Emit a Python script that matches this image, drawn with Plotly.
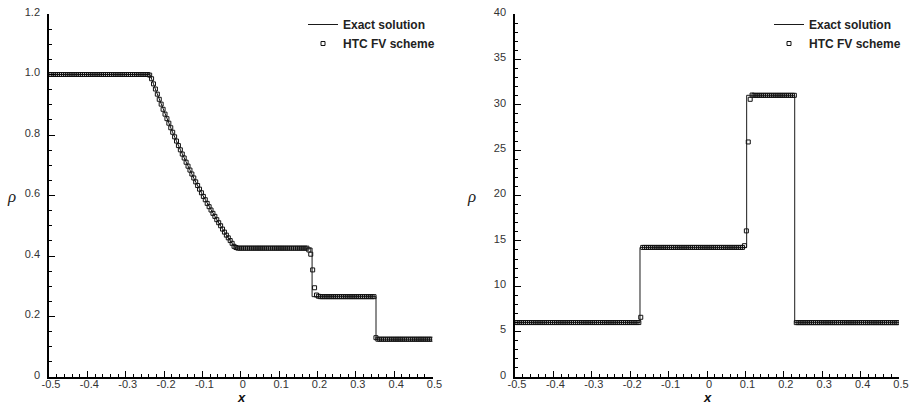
import numpy as np
import plotly.graph_objects as go

# ---------------- data ----------------
# cell centres of the numerical solution (200 cells on [-0.5, 0.5])
x_cells = np.linspace(-0.4975, 0.4975, 200)

# Left panel (Sod problem)
sod_rarefaction = [0.998, 0.986, 0.969, 0.952, 0.935, 0.918, 0.902, 0.885, 0.869, 0.854,
                   0.839, 0.824, 0.809, 0.794, 0.780, 0.765, 0.751, 0.737, 0.724, 0.710,
                   0.697, 0.684, 0.671, 0.658, 0.645, 0.633, 0.621, 0.609, 0.597, 0.586,
                   0.574, 0.563, 0.552, 0.541, 0.531, 0.520, 0.510, 0.500, 0.489, 0.479,
                   0.469, 0.460, 0.451, 0.442, 0.432, 0.428]
sod_contact = [0.420, 0.406, 0.354, 0.295, 0.271, 0.267]
rho_sod_num = ([1.0] * 52 + sod_rarefaction + [0.426] * 37 + sod_contact
               + [0.2656] * 29 + [0.13] + [0.125] * 29)

# Left panel exact solution
x_sod_exact = [-0.5, -0.2366, -0.22, -0.20, -0.18, -0.16, -0.14, -0.12, -0.10, -0.08,
               -0.06, -0.04, -0.02, -0.0141, 0.186, 0.186, 0.3527, 0.3527, 0.5]
rho_sod_exact = [1.0, 1.0, 0.943, 0.877, 0.816, 0.758, 0.703, 0.651, 0.603, 0.557,
                 0.515, 0.474, 0.437, 0.4263, 0.4263, 0.2656, 0.2656, 0.125, 0.125]

# Right panel (two colliding shocks) - numerical values
col_contact = [14.47, 16.1, 25.9, 30.6, 31.07]
rho_col_num = ([6.0] * 65 + [6.58] + [14.28] * 53 + col_contact
               + [31.04] * 22 + [5.99] * 54)

# Right panel exact solution
x_col_exact = [-0.5, -0.1745, -0.1745, 0.1033, 0.1033, 0.2284, 0.2284, 0.5]
rho_col_exact = [5.999, 5.999, 14.28, 14.28, 31.04, 31.04, 5.992, 5.992]

# tick labels
x_tickvals = [-0.5, -0.4, -0.3, -0.2, -0.1, 0, 0.1, 0.2, 0.3, 0.4, 0.5]
x_ticktext = ["-0.5", "-0.4", "-0.3", "-0.2", "-0.1", "0", "0.1", "0.2", "0.3", "0.4", "0.5"]
y1_tickvals = [0, 0.2, 0.4, 0.6, 0.8, 1.0, 1.2]
y1_ticktext = ["0", "0.2", "0.4", "0.6", "0.8", "1.0", "1.2"]
y2_tickvals = [0, 5, 10, 15, 20, 25, 30, 35, 40]
y2_ticktext = ["0", "5", "10", "15", "20", "25", "30", "35", "40"]

# ---------------- figure ----------------
W, H = 913, 406
fig = go.Figure()

line_style = dict(color="#1a1a1a", width=1)
marker_style = dict(symbol="square-open", size=4, color="#111111", line=dict(width=1))

fig.add_trace(go.Scatter(x=x_sod_exact, y=rho_sod_exact, mode="lines", line=line_style,
                         name="Exact solution", xaxis="x", yaxis="y", legend="legend"))
fig.add_trace(go.Scatter(x=x_cells, y=rho_sod_num, mode="markers", marker=marker_style,
                         name="HTC FV scheme", xaxis="x", yaxis="y", legend="legend"))
fig.add_trace(go.Scatter(x=x_col_exact, y=rho_col_exact, mode="lines", line=line_style,
                         name="Exact solution", xaxis="x2", yaxis="y2", legend="legend2"))
fig.add_trace(go.Scatter(x=x_cells, y=rho_col_num, mode="markers", marker=marker_style,
                         name="HTC FV scheme", xaxis="x2", yaxis="y2", legend="legend2"))

tickfont = dict(family="Liberation Sans, Arial, sans-serif", size=11, color="#333333")

def xaxis_cfg(dom, anchor):
    return dict(domain=dom, anchor=anchor, range=[-0.5, 0.5], showgrid=False, zeroline=False,
                showline=True, linecolor="#000000", linewidth=1.5, mirror=False, automargin=False,
                ticks="inside", ticklen=6, tickwidth=1, tickcolor="#000000",
                tickvals=x_tickvals, ticktext=x_ticktext, tickfont=tickfont,
                ticklabelstandoff=-4, ticklabelshift=2,
                minor=dict(ticks="inside", ticklen=3, tickwidth=1, tickcolor="#000000", dtick=0.02, tick0=0))

def yaxis_cfg(dom, anchor, rng, tv, tt, mdt):
    return dict(domain=dom, anchor=anchor, range=rng, showgrid=False, zeroline=False,
                showline=True, linecolor="#000000", linewidth=1.5, mirror=False, automargin=False,
                ticks="inside", ticklen=6, tickwidth=1, tickcolor="#000000",
                tickvals=tv, ticktext=tt, tickfont=tickfont,
                ticklabelstandoff=5, ticklabelshift=-2,
                minor=dict(ticks="inside", ticklen=3, tickwidth=1, tickcolor="#000000", dtick=mdt, tick0=0))

legend_font = dict(family="Liberation Sans, Arial, sans-serif", size=12, color="#222222", weight="bold")

xlab_font = dict(family="Liberation Sans, Arial", size=13, color="#111")
rho_font = dict(family="Liberation Serif, Times New Roman", size=17, color="#222")

ydom = [(H - 377) / H, (H - 14) / H]
fig.update_layout(
    width=W, height=H, margin=dict(l=0, r=0, t=0, b=0, autoexpand=False),
    paper_bgcolor="white", plot_bgcolor="white", showlegend=True,
    xaxis=xaxis_cfg([49 / W, 432.5 / W], "y"),
    yaxis=yaxis_cfg(ydom, "x", [0, 1.2], y1_tickvals, y1_ticktext, 0.05),
    xaxis2=xaxis_cfg([515 / W, 899 / W], "y2"),
    yaxis2=yaxis_cfg(ydom, "x2", [0, 40], y2_tickvals, y2_ticktext, 1),
    legend=dict(x=303 / W, y=(H - 10) / H, xanchor="left", yanchor="top", bgcolor="rgba(0,0,0,0)",
                font=legend_font, tracegroupgap=0),
    legend2=dict(x=769 / W, y=(H - 10) / H, xanchor="left", yanchor="top", bgcolor="rgba(0,0,0,0)",
                 font=legend_font, tracegroupgap=0),
    annotations=[
        dict(text="<b><i>x</i></b>", x=241 / W, y=0, xref="paper", yref="paper",
             xanchor="center", yanchor="bottom", borderpad=0, showarrow=False, font=xlab_font),
        dict(text="<b><i>x</i></b>", x=707 / W, y=0, xref="paper", yref="paper",
             xanchor="center", yanchor="bottom", borderpad=0, showarrow=False, font=xlab_font),
        dict(text="<i>ρ</i>", x=11 / W, y=(H - 196) / H, xref="paper", yref="paper",
             xanchor="center", yanchor="middle", showarrow=False, font=rho_font),
        dict(text="<i>ρ</i>", x=471 / W, y=(H - 196) / H, xref="paper", yref="paper",
             xanchor="center", yanchor="middle", showarrow=False, font=rho_font),
    ],
)

fig.write_html("out.html")
